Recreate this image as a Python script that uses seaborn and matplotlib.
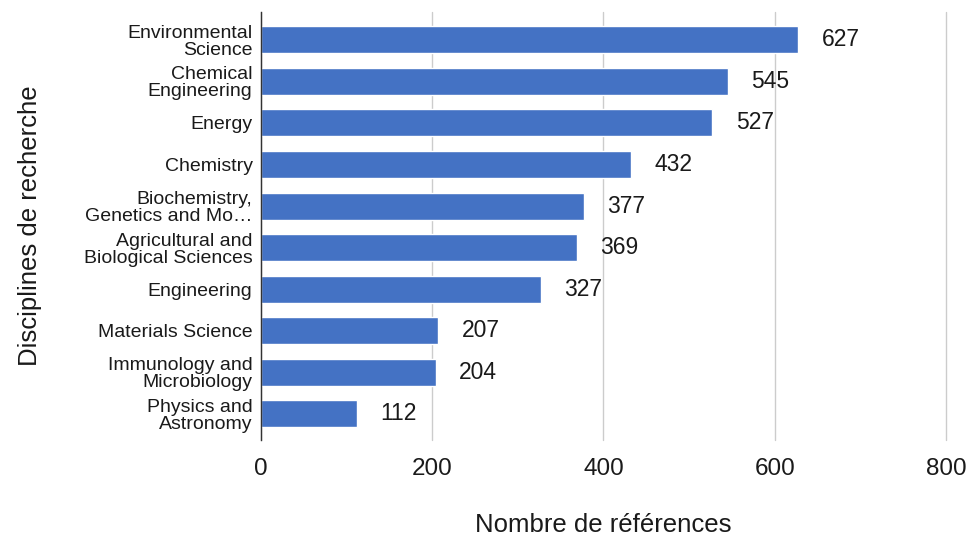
import matplotlib
matplotlib.use("Agg")
import matplotlib.pyplot as plt
import seaborn as sns
import pandas as pd

categories = ["Environmental\nScience", "Chemical\nEngineering", "Energy", "Chemistry",
              "Biochemistry,\nGenetics and Mo…", "Agricultural and\nBiological Sciences",
              "Engineering", "Materials Science", "Immunology and\nMicrobiology",
              "Physics and\nAstronomy"]
values = [627, 545, 527, 432, 377, 369, 327, 207, 204, 112]
xticks = [0, 200, 400, 600, 800]

sns.set_theme(style="white")
plt.rcParams['font.family'] = ['Liberation Sans', 'DejaVu Sans']

df = pd.DataFrame({"cat": categories, "val": values})

fig = plt.figure(figsize=(9.69, 5.40), dpi=100)
ax = fig.add_axes([0.2693, 0.185, 0.9763 - 0.2693, 0.978 - 0.185])

sns.barplot(data=df, x="val", y="cat", orient="h", color="#4472C4", width=0.65,
            saturation=1, ax=ax, zorder=3)

for p, v in zip(ax.patches, values):
    y = p.get_y() + p.get_height() / 2
    ax.annotate(str(v), (p.get_width(), y), xytext=(17, 0), textcoords="offset points",
                va="center", ha="left", fontsize=16.5, color="#1a1a1a")

ax.set_xlim(0, 800)
ax.set_ylim(9.63, -0.67)
ax.set_xticks(xticks)
ax.set_xticklabels([str(t) for t in xticks], fontsize=17.5, color="#1a1a1a")
ax.tick_params(axis="x", length=0, pad=13)
ax.tick_params(axis="y", length=0, pad=6, labelsize=14, labelcolor="#1a1a1a")
for lab in ax.get_yticklabels():
    lab.set_linespacing(1.0)
ax.xaxis.grid(True, color="#cccccc", linewidth=1, zorder=0)
for gl in ax.get_xgridlines():
    gl.set_clip_on(False)
ax.yaxis.grid(False)
for s in ["top", "right", "bottom"]:
    ax.spines[s].set_visible(False)
ax.spines["left"].set_color("#333333")
ax.spines["left"].set_linewidth(1)
ax.spines["left"].set_zorder(4)

ax.set_xlabel("Nombre de références", fontsize=18.5, color="#1a1a1a", labelpad=24)
ax.set_ylabel("Disciplines de recherche", fontsize=18.5, color="#1a1a1a", labelpad=30)

fig.savefig("out.png", dpi=100)
